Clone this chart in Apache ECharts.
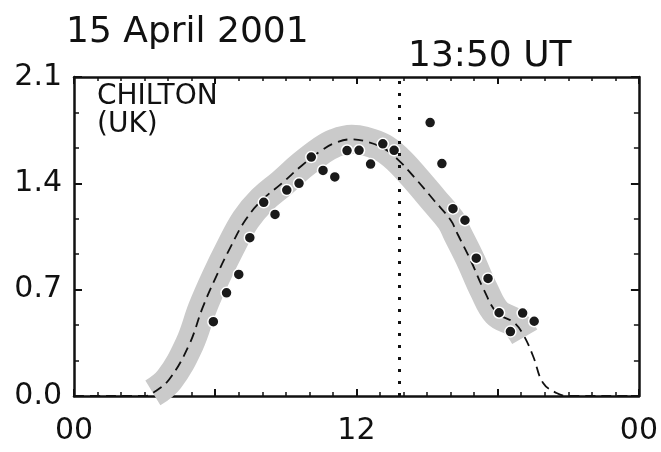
<!DOCTYPE html>
<html><head><meta charset="utf-8">
<script src="https://cdn.jsdelivr.net/npm/echarts@6/dist/echarts.min.js"></script>
<style>html,body{margin:0;padding:0;background:#fff}#c{width:661px;height:452px}</style>
</head><body><div id="c"></div>
<script>
// Model curve (hours UT, value)
const modelHours  = [0, 1, 2, 3, 3.35, 4.05, 4.9, 5.46, 6.02, 6.65, 7.29, 7.99, 8.83, 9.67, 10.5, 11.08, 11.8, 12.35, 13.12, 13.75, 14.46, 15.3, 16.0, 16.29, 16.85, 17.41, 17.97, 18.68, 19.1, 19.51, 19.93, 20.5, 21, 22, 23, 24];
const modelValues = [0, 0, 0, 0, 0.02, 0.11, 0.34, 0.58, 0.78, 0.98, 1.16, 1.29, 1.40, 1.516, 1.615, 1.665, 1.69, 1.678, 1.634, 1.558, 1.44, 1.287, 1.158, 1.068, 0.894, 0.70, 0.547, 0.485, 0.40, 0.26, 0.085, 0.02, 0, 0, 0, 0];
// Grey uncertainty band (centre line)
const bandHours  = [3.35, 4.05, 4.9, 5.46, 6.02, 6.65, 7.29, 7.99, 8.83, 9.67, 10.5, 11.08, 11.8, 12.35, 13.12, 13.75, 14.46, 15.3, 16.0, 16.29, 16.85, 17.41, 17.97, 18.68, 19.15];
const bandValues = [0.02, 0.11, 0.34, 0.58, 0.78, 0.98, 1.16, 1.29, 1.40, 1.516, 1.615, 1.665, 1.69, 1.678, 1.634, 1.558, 1.44, 1.287, 1.158, 1.068, 0.894, 0.70, 0.547, 0.485, 0.39];
// Observations
const obsHours  = [5.92, 6.48, 7.0, 7.47, 8.06, 8.54, 9.04, 9.56, 10.08, 10.58, 11.08, 11.6, 12.11, 12.6, 13.12, 13.6, 15.13, 15.63, 16.1, 16.61, 17.09, 17.59, 18.06, 18.54, 19.06, 19.55];
const obsValues = [0.489, 0.679, 0.80, 1.042, 1.275, 1.195, 1.356, 1.40, 1.573, 1.485, 1.442, 1.616, 1.617, 1.527, 1.66, 1.617, 1.80, 1.53, 1.233, 1.157, 0.907, 0.774, 0.548, 0.424, 0.546, 0.492];
// Ticks
const xTickValues = [0, 12, 24];
const xTickLabels = ['00', '12', '00'];
const yTickLabels = ['0.0', '0.7', '1.4', '2.1'];
const markerHour = 13 + 50 / 60;
const titleText = '15 April 2001';
const timeText = '13:50 UT';
const stationText = 'CHILTON\n(UK)';

const zip = (a, b) => a.map((v, i) => [v, b[i]]);
const FONT = '"DejaVu Sans", sans-serif';

const axisLine = { show: true, onZero: false, lineStyle: { color: '#111', width: 2.5 } };
const xAxisBase = {
  type: 'value', min: 0, max: 24, interval: 6,
  axisLine: axisLine,
  axisTick: { show: true, inside: true, length: 7, lineStyle: { color: '#111', width: 2 } },
  minorTick: { show: true, splitNumber: 6, length: 4, lineStyle: { color: '#111', width: 1.5 } },
  splitLine: { show: false }, minorSplitLine: { show: false }
};
const yAxisBase = {
  type: 'value', min: 0, max: 2.1, interval: 0.7,
  axisLine: axisLine,
  axisTick: { show: true, inside: true, length: 8, lineStyle: { color: '#111', width: 2 } },
  minorTick: { show: true, splitNumber: 3, length: 5, lineStyle: { color: '#111', width: 1.5 } },
  splitLine: { show: false }, minorSplitLine: { show: false }
};

const chart = echarts.init(document.getElementById('c'), null, { renderer: 'canvas' });
chart.setOption({
  animation: false,
  backgroundColor: '#fff',
  grid: { left: 74, right: 18, top: 77, bottom: 56 },
  xAxis: [
    Object.assign({}, xAxisBase, {
      position: 'bottom',
      axisLabel: {
        show: true, margin: 20, fontSize: 30, fontFamily: FONT, color: '#111',
        showMinLabel: true, showMaxLabel: true,
        formatter: v => { const i = xTickValues.indexOf(v); return i >= 0 ? xTickLabels[i] : ''; }
      }
    }),
    Object.assign({}, xAxisBase, { position: 'top', axisLabel: { show: false } })
  ],
  yAxis: [
    Object.assign({}, yAxisBase, {
      position: 'left',
      axisLabel: {
        show: true, margin: 12, fontSize: 30, fontFamily: FONT, color: '#111',
        showMinLabel: true, showMaxLabel: true,
        formatter: v => yTickLabels[Math.round(v / 0.7)]
      }
    }),
    Object.assign({}, yAxisBase, { position: 'right', axisLabel: { show: false } })
  ],
  graphic: [
    { type: 'text', left: 66, top: 15, style: { text: titleText, fontSize: 36, fontFamily: FONT, fill: '#111' } },
    { type: 'text', left: 408, top: 39, style: { text: timeText, fontSize: 36, fontFamily: FONT, fill: '#111' } },
    { type: 'text', left: 97, top: 83, style: { text: stationText, fontSize: 28, lineHeight: 28, fontFamily: FONT, fill: '#111' } }
  ],
  series: [
    {
      name: 'band', type: 'line', data: zip(bandHours, bandValues),
      smooth: 0.4, showSymbol: false, silent: true, z: 1,
      lineStyle: { color: '#cacaca', width: 29, cap: 'butt', join: 'round' }
    },
    {
      name: 'model', type: 'line', data: zip(modelHours, modelValues),
      smooth: 0.4, showSymbol: false, silent: true, z: 2,
      lineStyle: { color: '#111', width: 1.8, type: [10, 6] },
      markLine: {
        symbol: 'none', silent: true, label: { show: false },
        lineStyle: { color: '#111', width: 3, type: [3, 9] },
        data: [{ xAxis: markerHour }]
      }
    },
    {
      name: 'obs', type: 'scatter', data: zip(obsHours, obsValues),
      symbol: 'circle', symbolSize: 11, z: 3,
      itemStyle: { color: '#1a1a1a', borderColor: '#fff', borderWidth: 1.5, opacity: 1 }
    }
  ]
});
</script>
</body></html>
